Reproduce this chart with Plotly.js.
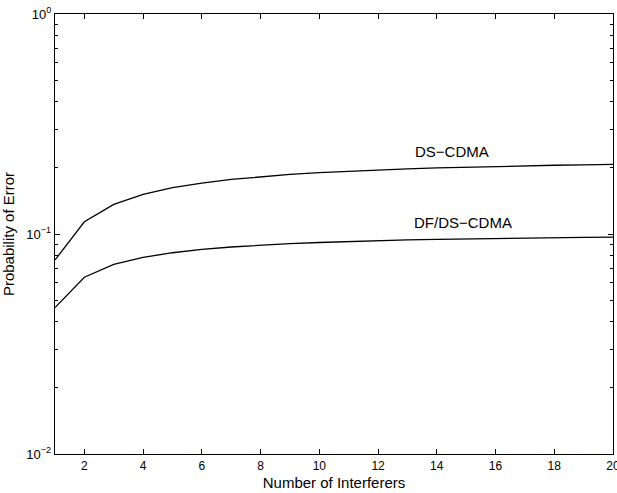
<!DOCTYPE html>
<html>
<head>
<meta charset="utf-8">
<script src="https://cdn.plot.ly/plotly-3.0.1.min.js"></script>
<style>html,body{margin:0;padding:0;background:#fff;}#chart{width:617px;height:493px;}</style>
</head>
<body>
<div id="chart"></div>
<script>
var interferers = [1,2,3,4,5,6,7,8,9,10,11,12,13,14,15,16,17,18,19,20];
var dsCdma = [0.0762,0.1137,0.1364,0.1514,0.1625,0.1705,0.1770,0.1822,0.1865,0.1900,
              0.1930,0.1955,0.1977,0.1996,0.2013,0.2028,0.2041,0.2053,0.2063,0.2072];
var dfDsCdma = [0.0463,0.0636,0.0728,0.0783,0.0822,0.0851,0.0873,0.0890,0.0904,0.0915,
                0.0925,0.0933,0.0940,0.0946,0.0951,0.0955,0.0959,0.0962,0.0965,0.0967];
var xTickVals = [2,4,6,8,10,12,14,16,18,20];
var yTickVals = [0.01,0.1,1];
var yTickText = ['10<sup>\u22122</sup>','10<sup>\u22121</sup>','10<sup>0</sup>'];
var yMinorVals = [0.02,0.03,0.04,0.05,0.06,0.07,0.08,0.09,0.2,0.3,0.4,0.5,0.6,0.7,0.8,0.9];
var seriesNames = ['DS\u2212CDMA','DF/DS\u2212CDMA'];

var font = 'Liberation Sans, Arial, Helvetica, sans-serif';
var traces = [
  {x: interferers, y: dsCdma, type:'scatter', mode:'lines', name: seriesNames[0],
   line:{color:'#000', width:1.3}},
  {x: interferers, y: dfDsCdma, type:'scatter', mode:'lines', name: seriesNames[1],
   line:{color:'#000', width:1.3}}
];
var layout = {
  width:617, height:493,
  margin:{l:55, r:4, t:14, b:39},
  paper_bgcolor:'#fff', plot_bgcolor:'#fff',
  showlegend:false,
  font:{family:font, color:'#000', size:12},
  xaxis:{
    range:[1,20], tickmode:'array', tickvals:xTickVals,
    ticks:'inside', ticklen:5, tickcolor:'#000', tickwidth:1,
    showline:true, linecolor:'#000', linewidth:1.2, mirror:'ticks',
    showgrid:false, zeroline:false, ticklabeloverflow:'allow',
    tickfont:{size:12, family:font},
    title:{text:'Number of Interferers', font:{size:15, family:font}, standoff:6}
  },
  yaxis:{
    type:'log', range:[-2,0], tickmode:'array', tickvals:yTickVals, ticktext:yTickText,
    ticks:'inside', ticklen:5, tickcolor:'#000', tickwidth:1,
    showline:true, linecolor:'#000', linewidth:1.2, mirror:'ticks',
    showgrid:false, zeroline:false, ticklabeloverflow:'allow',
    tickfont:{size:13, family:font},
    minor:{tickmode:'array', tickvals:yMinorVals, ticks:'inside', ticklen:3, tickcolor:'#000', tickwidth:1, showgrid:false},
    title:{text:'Probability of Error', font:{size:15, family:font}, standoff:8}
  },
  annotations:[
    {x:13.2, y:Math.log10(0.238), xref:'x', yref:'y', text:seriesNames[0], showarrow:false,
     xanchor:'left', yanchor:'middle', font:{size:15, family:font, color:'#000'}},
    {x:13.15, y:Math.log10(0.1128), xref:'x', yref:'y', text:seriesNames[1], showarrow:false,
     xanchor:'left', yanchor:'middle', font:{size:15, family:font, color:'#000'}}
  ]
};
Plotly.newPlot('chart', traces, layout, {displayModeBar:false, staticPlot:true});
</script>
</body>
</html>
